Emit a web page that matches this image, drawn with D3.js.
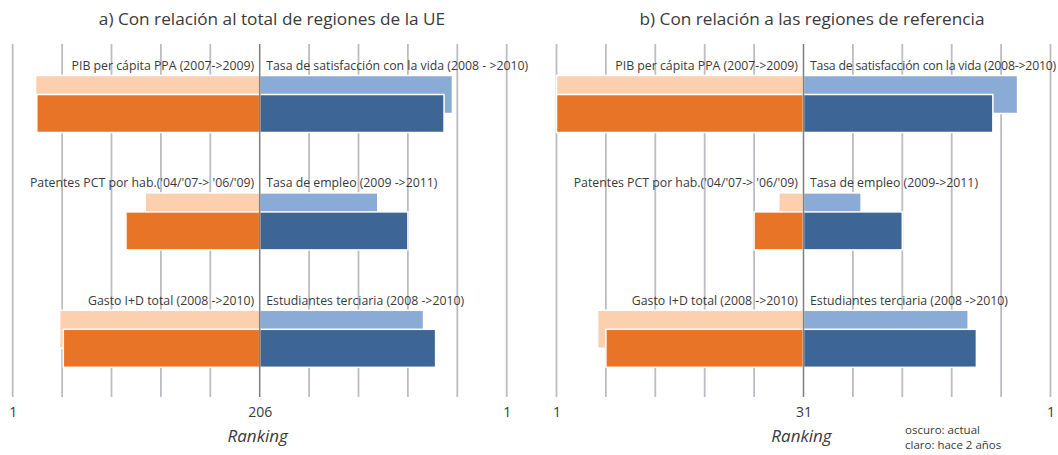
<!DOCTYPE html>
<html>
<head>
<meta charset="utf-8">
<script src="https://cdn.jsdelivr.net/npm/d3@7"></script>
<style>
  html, body { margin: 0; padding: 0; background: #fff; }
  svg { display: block; font-family: "Open Sans", sans-serif; }
</style>
</head>
<body>
<svg id="chart" width="1058" height="455"></svg>
<script>
// Panel titles
const titles = ["a) Con relación al total de regiones de la UE",
                "b) Con relación a las regiones de referencia"];

// Number of regions ranked in each panel (worst rank, at the centre line)
const totals = [206, 31];

// Indicator labels: left half and right half of each panel
const leftLabelsA  = ["PIB per cápita PPA (2007->2009)",
                      "Patentes PCT por hab.('04/'07-> '06/'09)",
                      "Gasto I+D total (2008 ->2010)"];
const rightLabelsA = ["Tasa de satisfacción con la vida (2008 - >2010)",
                      "Tasa de empleo (2009 ->2011)",
                      "Estudiantes terciaria (2008 ->2010)"];
const leftLabelsB  = ["PIB per cápita PPA (2007->2009)",
                      "Patentes PCT por hab.('04/'07-> '06/'09)",
                      "Gasto I+D total (2008 ->2010)"];
const rightLabelsB = ["Tasa de satisfacción con la vida (2008->2010)",
                      "Tasa de empleo (2009->2011)",
                      "Estudiantes terciaria (2008 ->2010)"];

// Rankings: "prev" = two years earlier (light), "now" = current (dark)
const leftPrevA  = [20, 111, 40];
const leftNowA   = [21, 95, 43];
const rightPrevA = [46, 108, 70];
const rightNowA  = [53, 83, 60];

const leftPrevB  = [1, 28, 6];
const leftNowB   = [1, 25, 7];
const rightPrevB = [5, 24, 11];
const rightNowB  = [8, 19, 10];

// Rank values at which vertical grid lines are drawn
const gridRanksA = [1, 42, 83, 124, 165, 206];
const gridRanksB = [1, 7, 13, 19, 25, 31];

const legendLines = ["oscuro: actual", "claro: hace 2 años"];

const colors = {
  leftNow: "#e87428", leftPrev: "#fccfae",
  rightNow: "#3d6697", rightPrev: "#8aabd6",
  grid: "#bcbcc4", center: "#7f7f7f", text: "#3a3a3a"
};

const panels = [
  { title: titles[0], total: totals[0], grid: gridRanksA,
    leftLabels: leftLabelsA, rightLabels: rightLabelsA,
    leftPrev: leftPrevA, leftNow: leftNowA, rightPrev: rightPrevA, rightNow: rightNowA,
    x0: 12.7, cx: 259.7, x1: 506.7, titleX: 272 },
  { title: titles[1], total: totals[1], grid: gridRanksB,
    leftLabels: leftLabelsB, rightLabels: rightLabelsB,
    leftPrev: leftPrevB, leftNow: leftNowB, rightPrev: rightPrevB, rightNow: rightNowB,
    x0: 556.5, cx: 803.5, x1: 1050.5, titleX: 812 }
];

const svg = d3.select("#chart");
const W = 1058;
const gridTop = 44, gridBottom = 397;

// Vertical band per indicator pair
const y = d3.scaleBand()
  .domain(d3.range(3))
  .range([75.5, 75.5 + 3 * 117.4])
  .paddingInner(0).paddingOuter(0);
const lightH = 38, darkOffset = 19, darkH = 38;
const labelSize = 12.3;

panels.forEach(p => {
  const g = svg.append("g");
  const xL = d3.scaleLinear().domain([p.total, 1]).range([p.cx, p.x0]);
  const xR = d3.scaleLinear().domain([p.total, 1]).range([p.cx, p.x1]);

  // Title
  g.append("text")
    .attr("x", p.titleX).attr("y", 24.5)
    .attr("text-anchor", "middle")
    .attr("font-size", 17.2)
    .attr("fill", colors.text)
    .text(p.title);

  // Grid lines on both halves
  const gridX = Array.from(new Set(p.grid.map(r => xL(r)).concat(p.grid.map(r => xR(r)))));
  g.append("g").selectAll("line")
    .data(gridX.filter(x => Math.abs(x - p.cx) > 1))
    .join("line")
    .attr("x1", d => d).attr("x2", d => d)
    .attr("y1", gridTop).attr("y2", gridBottom)
    .attr("stroke", colors.grid).attr("stroke-width", 1.8);

  const rows = d3.range(3);

  // Light bars (two years earlier)
  g.append("g").selectAll("rect")
    .data(rows).join("rect")
    .attr("x", i => xL(p.leftPrev[i]))
    .attr("y", i => y(i))
    .attr("width", i => p.cx - xL(p.leftPrev[i]))
    .attr("height", lightH)
    .attr("fill", colors.leftPrev)
    .attr("stroke", "#fff").attr("stroke-width", 1.5);
  g.append("g").selectAll("rect")
    .data(rows).join("rect")
    .attr("x", p.cx)
    .attr("y", i => y(i))
    .attr("width", i => xR(p.rightPrev[i]) - p.cx)
    .attr("height", lightH)
    .attr("fill", colors.rightPrev)
    .attr("stroke", "#fff").attr("stroke-width", 1.5);

  // Dark bars (current)
  g.append("g").selectAll("rect")
    .data(rows).join("rect")
    .attr("x", i => xL(p.leftNow[i]))
    .attr("y", i => y(i) + darkOffset)
    .attr("width", i => p.cx - xL(p.leftNow[i]))
    .attr("height", darkH)
    .attr("fill", colors.leftNow)
    .attr("stroke", "#fff").attr("stroke-width", 1.5);
  g.append("g").selectAll("rect")
    .data(rows).join("rect")
    .attr("x", p.cx)
    .attr("y", i => y(i) + darkOffset)
    .attr("width", i => xR(p.rightNow[i]) - p.cx)
    .attr("height", darkH)
    .attr("fill", colors.rightNow)
    .attr("stroke", "#fff").attr("stroke-width", 1.5);

  // Centre line (worst rank)
  g.append("line")
    .attr("x1", p.cx).attr("x2", p.cx)
    .attr("y1", gridTop).attr("y2", gridBottom)
    .attr("stroke", colors.center).attr("stroke-width", 1.5);

  // Indicator labels
  g.append("g").selectAll("text")
    .data(rows).join("text")
    .attr("x", p.cx - 5.5)
    .attr("y", i => y(i) - 5.5)
    .attr("text-anchor", "end")
    .attr("font-size", labelSize)
    .attr("fill", colors.text)
    .text(i => p.leftLabels[i]);
  g.append("g").selectAll("text")
    .data(rows).join("text")
    .attr("x", p.cx + 6.5)
    .attr("y", i => y(i) - 5.5)
    .attr("text-anchor", "start")
    .attr("font-size", labelSize)
    .attr("fill", colors.text)
    .text(i => p.rightLabels[i])
    .each(function () {
      // tighten a label that would run past the right edge of the page
      const room = W - 2 - (p.cx + 6.5);
      const len = this.getComputedTextLength();
      if (len > room) {
        const n = this.textContent.length;
        d3.select(this).attr("letter-spacing", -((len - room) / n).toFixed(3));
      }
    });

  // Rank axis labels
  [ [xL, [1, p.total]], [xR, [1]] ].forEach(([scale, vals]) => {
    const ax = g.append("g")
      .attr("transform", `translate(0,${gridBottom})`)
      .call(d3.axisBottom(scale).tickValues(vals).tickSize(0).tickPadding(10.5)
        .tickFormat(d3.format("d")));
    ax.select(".domain").remove();
    ax.selectAll("text")
      .attr("font-family", "'Open Sans', sans-serif")
      .attr("font-size", 14)
      .attr("fill", colors.text);
  });

  g.append("text")
    .attr("x", p.cx - 2).attr("y", 442)
    .attr("text-anchor", "middle")
    .attr("font-size", 17)
    .attr("font-style", "italic")
    .attr("fill", colors.text)
    .text("Ranking");
});

// Legend note
svg.append("g").selectAll("text")
  .data(legendLines).join("text")
  .attr("x", 905)
  .attr("y", (d, i) => 433.5 + i * 15.8)
  .attr("font-size", 11.5)
  .attr("fill", colors.text)
  .text(d => d);
</script>
</body>
</html>
